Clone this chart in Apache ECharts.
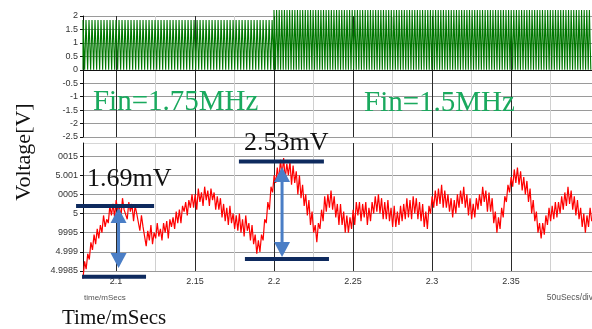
<!DOCTYPE html>
<html>
<head>
<meta charset="utf-8">
<script src="https://cdn.jsdelivr.net/npm/echarts@6/dist/echarts.min.js"></script>
<style>
  html, body { margin: 0; padding: 0; background: #fff; }
  #main { width: 592px; height: 329px; }
</style>
</head>
<body>
<div id="main"></div>
<script>
// time axis (mSecs)
var timeMin = 2.0791;
var timeMax = 2.4013;
var timeTicks = [2.1, 2.15, 2.2, 2.25, 2.3, 2.35];
var timeMinorTicks = [2.125, 2.175, 2.225, 2.275, 2.325, 2.375];

// output voltage, mV away from 5 V, and the tick labels as they show
var outTickValues = [-1.5, -1, -0.5, 0, 0.5, 1, 1.5];
var outTickLabels = ['4.9985', '4.999', '9995', '5', '0005', '5.001', '0015'];

// red trace: one value every 1 us from timeMin
var redStart = 2.0791;
var redStep = 0.001;
var redMv = [
  -1.7, -1.25, -1.45, -1.05, -1.2, -0.75, -0.95, -0.55, -0.8, -0.4,
  -0.65, -0.3, -0.5, -0.05, -0.35, -0.15, -0.25, 0.2, -0.05, 0.25,
  -0.1, 0.35, 0.05, 0.2, -0.1, 0.4, 0.1, 0.15, -0.15, 0.3,
  0.05, 0.25, -0.2, 0.2, 0.0, 0.05, -0.45, -0.05, -0.35, -0.4,
  -0.85, -0.45, -0.7, -0.3, -0.8, -0.5, -0.65, -0.25, -0.6, -0.4,
  -0.7, -0.25, -0.5, -0.2, -0.65, -0.15, -0.35, -0.1, -0.4, 0.05,
  -0.25, 0.1, -0.25, 0.2, 0.05, 0.3, -0.05, 0.35, 0.15, 0.5,
  0.15, 0.5, 0.1, 0.65, 0.3, 0.55, 0.2, 0.7, 0.35, 0.6,
  0.2, 0.65, 0.35, 0.55, 0.1, 0.45, 0.1, 0.4, -0.1, 0.25,
  -0.2, 0.15, -0.3, 0.2, -0.25, 0.0, -0.4, -0.05, -0.45, 0.0,
  -0.5, -0.15, -0.6, -0.05, -0.45, -0.25, -0.7, -0.3, -0.8, -0.55,
  -1.05, -0.7, -1.0, -0.55, -0.7, -0.15, -0.25, 0.3, 0.1, 0.7,
  0.55, 1.0, 0.8, 1.2, 0.85, 1.4, 1.0, 1.45, 0.9, 1.3,
  1.0, 1.35, 0.75, 1.25, 0.8, 1.1, 0.5, 1.0, 0.4, 0.75,
  0.2, 0.5, -0.05, 0.35, -0.3, 0.05, -0.5, -0.3, -0.75, -0.25,
  -0.4, 0.1, -0.2, 0.45, 0.05, 0.5, 0.15, 0.6, 0.1, 0.45,
  -0.1, 0.25, -0.3, 0.25, -0.3, 0.05, -0.5, -0.05, -0.5, -0.1,
  -0.4, 0.1, -0.3, 0.3, -0.05, 0.3, -0.2, 0.25, -0.1, 0.3,
  -0.3, 0.15, -0.2, 0.3, 0.0, 0.45, 0.05, 0.5, 0.0, 0.4,
  -0.15, 0.3, -0.15, 0.35, -0.2, 0.15, -0.35, 0.2, -0.35, 0.05,
  -0.3, 0.2, -0.2, 0.25, -0.15, 0.4, -0.1, 0.35, -0.15, 0.45,
  0.0, 0.4, -0.15, 0.3, -0.2, 0.25, -0.35, 0.05, -0.4, 0.2,
  0.0, 0.45, 0.15, 0.6, 0.2, 0.65, 0.25, 0.75, 0.15, 0.6,
  0.15, 0.5, 0.05, 0.4, -0.1, 0.35, 0.0, 0.5, 0.15, 0.6,
  0.25, 0.7, 0.15, 0.5, -0.05, 0.4, -0.15, 0.25, -0.1, 0.4,
  0.1, 0.5, 0.2, 0.7, 0.3, 0.6, 0.05, 0.55, 0.05, 0.4,
  -0.25, 0.05, -0.5, -0.1, -0.4, 0.15, -0.1, 0.45, 0.3, 0.75,
  0.55, 0.95, 0.7, 1.15, 0.8, 1.2, 0.75, 1.1, 0.6, 0.95,
  0.5, 0.85, 0.3, 0.65, 0.0, 0.35, -0.2, 0.05, -0.5, -0.25,
  -0.65, -0.25, -0.55, -0.05, -0.3, 0.15, -0.2, 0.2, -0.15, 0.3,
  -0.1, 0.3, 0.0, 0.45, 0.1, 0.55, 0.2, 0.7, 0.25, 0.6,
  0.1, 0.45, -0.05, 0.35, -0.15, 0.15, -0.35, 0.0, -0.5, -0.05,
  -0.35, 0.15, -0.2
];

// green trace: pulse trains (start, end, high level V, pulse spacing ms)
var greenBursts = [
  { from: 2.0791, to: 2.2, high: 1.85, spacing: 0.0019 },
  { from: 2.2, to: 2.4013, high: 2.22, spacing: 0.00165 }
];

// annotations, in data units of the lower panel (ms, mV)
var spanBars = [
  { from: 2.0747, to: 2.1241, mv: 0.197 },
  { from: 2.0785, to: 2.119, mv: -1.649 },
  { from: 2.1778, to: 2.2316, mv: 1.359 },
  { from: 2.1816, to: 2.2348, mv: -1.187 }
];
var spanArrows = [
  { t: 2.1016, top: 0.145, bottom: -1.42 },
  { t: 2.2051, top: 1.215, bottom: -1.134 }
];
var spanLabels = [
  { text: '1.69mV', t: 2.0816, mv: 0.89 },
  { text: '2.53mV', t: 2.181, mv: 1.83 }
];
// upper panel labels (ms, V)
var freqLabels = [
  { text: 'Fin=1.75MHz', t: 2.0854, v: -1.21 },
  { text: 'Fin=1.5MHz', t: 2.257, v: -1.25 }
];

var greenData = [];
greenBursts.forEach(function (b) {
  for (var t = b.from; t < b.to; t += b.spacing) {
    var t2 = t + b.spacing * 0.55;
    greenData.push([t, 0], [t, b.high], [t2, b.high], [t2, 0]);
  }
});
var redData = redMv.map(function (v, i) {
  return [redStart + i * redStep, v];
});

var chartDom = document.getElementById('main');
var myChart = echarts.init(chartDom);

var labelFont = { fontFamily: 'Arial, "Liberation Sans"', fontSize: 9, color: '#333' };

function majorX(gridIndex, showLabel) {
  return {
    type: 'value', gridIndex: gridIndex, min: timeMin, max: timeMax, position: 'bottom',
    axisLine: { show: !showLabel, lineStyle: { color: '#111', width: 1 } },
    axisTick: { show: false, customValues: timeTicks },
    axisLabel: Object.assign({ show: showLabel, customValues: timeTicks, margin: 6,
      formatter: function (v) { return String(+v.toFixed(3)); } }, labelFont),
    splitLine: { show: true, lineStyle: { color: '#2a2a2a', width: 1 } }
  };
}
function minorX(gridIndex) {
  return {
    type: 'value', gridIndex: gridIndex, min: timeMin, max: timeMax, position: 'bottom',
    axisLine: { show: false },
    axisTick: { show: false, customValues: timeMinorTicks },
    axisLabel: { show: false, customValues: timeMinorTicks },
    splitLine: { show: true, lineStyle: { color: '#d0d0d0', width: 1 } }
  };
}

var option = {
  animation: false,
  backgroundColor: '#fff',
  grid: [
    { left: 83, right: 0, top: 16, height: 121 },
    { left: 83, right: 0, top: 143, height: 128 }
  ],
  xAxis: [majorX(0, false), minorX(0), majorX(1, true), minorX(1)],
  yAxis: [
    {
      type: 'value', gridIndex: 0, min: -2.5, max: 2, interval: 0.5,
      axisLine: { show: true, lineStyle: { color: '#111' } },
      axisTick: { show: true, length: 3, lineStyle: { color: '#111' } },
      axisLabel: Object.assign({ margin: 5 }, labelFont),
      splitLine: { show: true, lineStyle: { color: '#9a9a9a', width: 1 } }
    },
    {
      type: 'value', gridIndex: 1, min: -1.5, max: 1.84, interval: 0.5,
      axisLine: { show: true, lineStyle: { color: '#111' } },
      axisTick: { show: true, length: 3, lineStyle: { color: '#111' } },
      axisLabel: Object.assign({ margin: 5, showMaxLabel: false, formatter: function (v) {
        var k = outTickValues.indexOf(+v.toFixed(2));
        return k < 0 ? '' : outTickLabels[k];
      } }, labelFont),
      splitLine: { show: true, lineStyle: {
        color: ['#9a9a9a', '#9a9a9a', '#9a9a9a', '#9a9a9a', '#9a9a9a', '#9a9a9a', '#9a9a9a', '#d6d6d6'],
        width: 1 } }
    }
  ],
  series: [
    {
      name: 'input', type: 'line', xAxisIndex: 0, yAxisIndex: 0,
      data: greenData, showSymbol: false, clip: false, z: 3,
      lineStyle: { color: '#007800', width: 1.1 }
    },
    {
      name: 'output', type: 'line', xAxisIndex: 2, yAxisIndex: 1,
      data: redData, showSymbol: false, clip: false, z: 3,
      lineStyle: { color: '#ff0000', width: 1.2 }
    }
  ]
};

option && myChart.setOption(option);

// annotations tied to data coordinates
function lower(t, mv) { return myChart.convertToPixel({ xAxisIndex: 2, yAxisIndex: 1 }, [t, mv]); }
function upper(t, v) { return myChart.convertToPixel({ xAxisIndex: 0, yAxisIndex: 0 }, [t, v]); }

var graphics = [];
var serif = '"Liberation Serif", "Times New Roman", serif';

freqLabels.forEach(function (f) {
  var p = upper(f.t, f.v);
  graphics.push({ type: 'text', z: 100, x: p[0], y: p[1],
    style: { text: f.text, fill: '#1aa95e', font: '29px ' + serif, verticalAlign: 'middle' } });
});
spanBars.forEach(function (b) {
  var a = lower(b.from, b.mv), c = lower(b.to, b.mv);
  graphics.push({ type: 'line', z: 100,
    shape: { x1: a[0], y1: a[1], x2: c[0], y2: c[1] },
    style: { stroke: '#0e2a5e', lineWidth: 4 } });
});
spanArrows.forEach(function (s) {
  var top = lower(s.t, s.top), bot = lower(s.t, s.bottom);
  var x = top[0], head = 15, half = 8;
  graphics.push({ type: 'line', z: 100,
    shape: { x1: x, y1: top[1] + head - 1, x2: x, y2: bot[1] - head + 1 },
    style: { stroke: '#4a7ec6', lineWidth: 3 } });
  graphics.push({ type: 'polygon', z: 100,
    shape: { points: [[x, top[1]], [x - half, top[1] + head], [x + half, top[1] + head]] },
    style: { fill: '#4a7ec6' } });
  graphics.push({ type: 'polygon', z: 100,
    shape: { points: [[x, bot[1]], [x - half, bot[1] - head], [x + half, bot[1] - head]] },
    style: { fill: '#4a7ec6' } });
});
spanLabels.forEach(function (l) {
  var p = lower(l.t, l.mv);
  graphics.push({ type: 'text', z: 101, x: p[0], y: p[1],
    style: { text: l.text, fill: '#111', font: '26px ' + serif, verticalAlign: 'middle' } });
});

graphics.push(
  { type: 'text', z: 100, x: 24, y: 152, rotation: Math.PI / 2,
    style: { text: 'Voltage[V]', fill: '#111', font: '22px ' + serif, align: 'center', verticalAlign: 'middle' } },
  { type: 'text', z: 100, x: 62, y: 318,
    style: { text: 'Time/mSecs', fill: '#111', font: '21px ' + serif, verticalAlign: 'middle' } },
  { type: 'text', z: 100, x: 84, y: 298,
    style: { text: 'time/mSecs', fill: '#555', font: '8px Arial, "Liberation Sans"', verticalAlign: 'middle' } },
  { type: 'text', z: 100, x: 593, y: 298,
    style: { text: '50uSecs/div', fill: '#555', font: '8.5px Arial, "Liberation Sans"', align: 'right', verticalAlign: 'middle' } }
);

myChart.setOption({ graphic: graphics });
</script>
</body>
</html>
